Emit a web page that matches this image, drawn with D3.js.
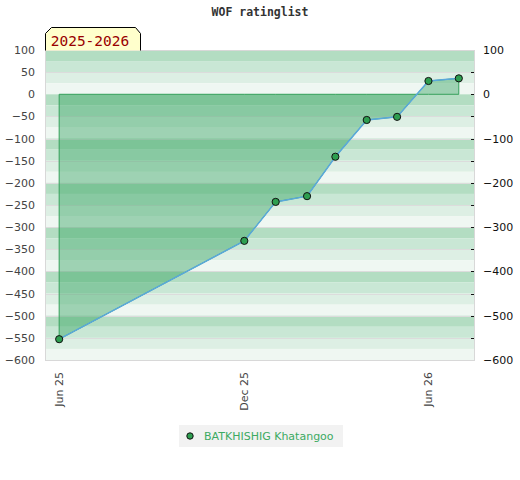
<!DOCTYPE html>
<html>
<head>
<meta charset="utf-8">
<script src="https://cdn.jsdelivr.net/npm/d3@7"></script>
<style>
  body { margin: 0; background: #fff; }
  text { font-family: "DejaVu Sans", sans-serif; }
</style>
</head>
<body>
<div id="chart"></div>
<script>
// rating progress, one point per month
const dates = ["2025-06-01", "2025-12-01", "2026-01-01", "2026-02-01", "2026-03-01",
               "2026-04-01", "2026-05-01", "2026-06-01", "2026-07-01"];
const values = [-553, -331, -243, -230, -141, -58, -51, 30, 36];
const playerName = "BATKHISHIG Khatangoo";
const seasonLabel = "2025-2026";
const chartTitle = "WOF ratinglist";
const tickDates = ["2025-06-01", "2025-12-01", "2026-06-01"];
const leftTicks = [100, 50, 0, -50, -100, -150, -200, -250, -300, -350, -400, -450, -500, -550, -600];
const rightTicks = [100, 0, -100, -200, -300, -400, -500, -600];
const bandColors = ["#b3ddc2", "#c9e7d5", "#ddefe4", "#eff7f2"];

const W = 520, H = 480;
const plot = {left: 45, right: 475, top: 50, bottom: 360};

const parse = d3.timeParse("%Y-%m-%d");
const data = dates.map((d, i) => ({date: parse(d), v: values[i]}));

const svg = d3.select("#chart").append("svg")
    .attr("width", W)
    .attr("height", H);

let x = d3.scaleTime()
  .domain([parse("2025-05-18"), parse("2026-07-17")])
  .range([plot.left, plot.right]);

let y = d3.scaleLinear()
  .domain([-600, 100])
  .range([plot.bottom, plot.top]);

// title
svg.append("text")
  .attr("x", 260).attr("y", 16)
  .attr("text-anchor", "middle")
  .style("font-family", "'DejaVu Sans Mono', monospace")
  .style("font-weight", "bold")
  .style("font-size", "11.5px")
  .attr("fill", "#333")
  .text(chartTitle);

// striped background, 25 points per band
const bands = d3.range(100, -600, -25);
svg.selectAll("rect.band")
  .data(bands)
  .enter()
  .append("rect")
    .attr("class", "band")
    .attr("x", plot.left)
    .attr("width", plot.right - plot.left)
    .attr("y", d => y(d))
    .attr("height", d => y(d - 25) - y(d))
    .attr("fill", (d, i) => bandColors[i % 4]);

// grid lines every 50
svg.selectAll("line.grid")
  .data(leftTicks.filter(d => d > -600 && d < 100 && d !== 0))
  .enter()
  .append("line")
    .attr("x1", plot.left).attr("x2", plot.right)
    .attr("y1", d => Math.round(y(d)) + 0.5)
    .attr("y2", d => Math.round(y(d)) + 0.5)
    .attr("stroke", "#dcdcdc");

svg.append("rect")
  .attr("x", plot.left + 0.5).attr("y", plot.top + 0.5)
  .attr("width", plot.right - plot.left - 1)
  .attr("height", plot.bottom - plot.top)
  .attr("fill", "none")
  .attr("stroke", "#d8d8d8");

// area down to zero
const area = d3.area()
  .x(d => x(d.date))
  .y0(y(0))
  .y1(d => y(d.v));

svg.append("path")
  .datum(data)
  .attr("d", area)
  .attr("fill", "rgb(51,162,95)")
  .attr("fill-opacity", 0.43)
  .attr("stroke", "#34a05a")
  .attr("stroke-width", 1);

svg.append("path")
  .datum(data)
  .attr("d", d3.line().x(d => x(d.date)).y(d => y(d.v)))
  .attr("fill", "none")
  .attr("stroke", "#5aa8dc")
  .attr("stroke-width", 1.5);

svg.selectAll("circle.pt")
  .data(data)
  .enter()
  .append("circle")
    .attr("class", "pt")
    .attr("cx", d => x(d.date))
    .attr("cy", d => y(d.v))
    .attr("r", 3.6)
    .attr("fill", "#2e9e50")
    .attr("stroke", "#111")
    .attr("stroke-width", 1);

// left axis labels
svg.append("g")
  .attr("transform", "translate(" + plot.left + ",0)")
  .call(d3.axisLeft(y).tickValues(leftTicks).tickSize(0).tickPadding(10))
  .call(g => g.select(".domain").remove())
  .selectAll("text")
    .attr("fill", "#444")
    .style("font-size", "11px");

// right axis: short marks every 50, labels every 100
svg.selectAll("line.rtick")
  .data(leftTicks.filter(d => d > -600 && d < 100))
  .enter()
  .append("line")
    .attr("x1", plot.right - 4).attr("x2", plot.right - 1)
    .attr("y1", d => Math.round(y(d)) + 0.5)
    .attr("y2", d => Math.round(y(d)) + 0.5)
    .attr("stroke", "#111");
svg.append("g")
  .attr("transform", "translate(" + plot.right + ",0)")
  .call(d3.axisRight(y).tickValues(rightTicks).tickSize(0).tickPadding(8))
  .call(g => g.select(".domain").remove())
  .selectAll("text")
    .attr("fill", "#111")
    .style("font-size", "11px");

// x axis, rotated labels
svg.append("g")
  .attr("transform", "translate(0," + plot.bottom + ")")
  .call(d3.axisBottom(x).tickValues(tickDates.map(parse)).tickFormat(d3.timeFormat("%b %y")).tickSize(0))
  .call(g => g.select(".domain").remove())
  .selectAll("text")
    .attr("transform", "translate(0,12)rotate(-90)")
    .attr("x", 0).attr("y", 0).attr("dy", "0.32em")
    .style("text-anchor", "end")
    .attr("fill", "#444")
    .style("font-size", "11px");

// season tag
const tg = svg.append("g");
tg.append("path")
  .attr("d", "M45.5,50.5 L45.5,33.5 L51.5,27.5 L135.5,27.5 L140.5,33.5 L140.5,50.5")
  .attr("fill", "#ffffcc")
  .attr("stroke", "#000");
tg.append("text")
  .attr("x", 90).attr("y", 45.5)
  .attr("text-anchor", "middle")
  .style("font-family", "'DejaVu Sans Mono', monospace")
  .style("font-size", "14.5px")
  .attr("fill", "#990000")
  .text(seasonLabel);

// legend
const lg = svg.append("g");
lg.append("rect")
  .attr("x", 179).attr("y", 425)
  .attr("width", 164).attr("height", 22)
  .attr("fill", "#f2f2f2");
lg.append("circle")
  .attr("cx", 190).attr("cy", 436).attr("r", 3.2)
  .attr("fill", "#2e9e50").attr("stroke", "#111");
lg.append("text")
  .attr("x", 204).attr("y", 440)
  .attr("fill", "#3caa62")
  .style("font-size", "11px")
  .text(playerName);
</script>
</body>
</html>
